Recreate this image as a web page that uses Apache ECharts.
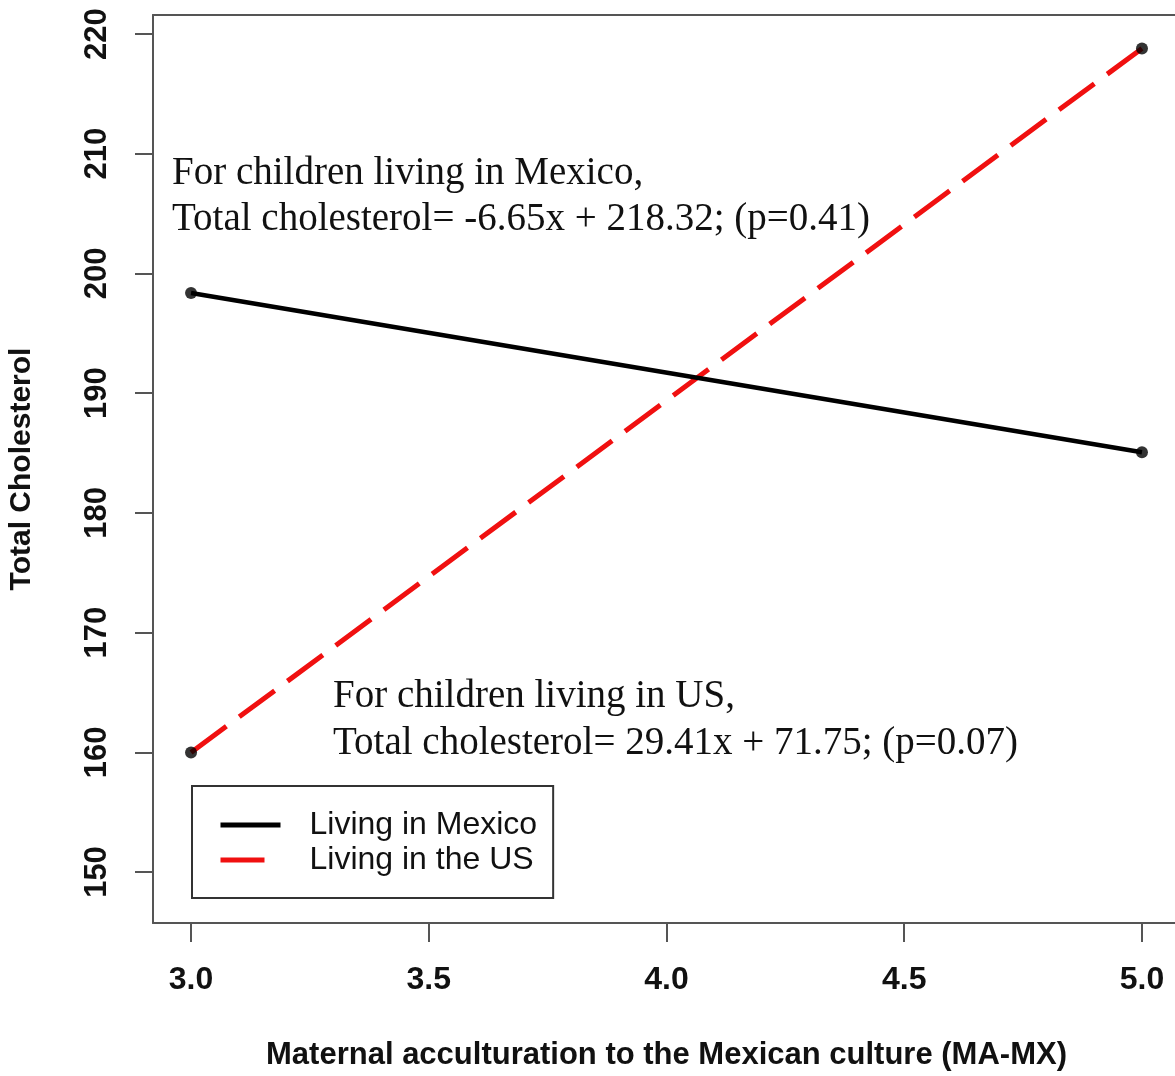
<!DOCTYPE html>
<html>
<head>
<meta charset="utf-8">
<script src="https://cdn.jsdelivr.net/npm/echarts@6/dist/echarts.min.js"></script>
<style>html,body{margin:0;padding:0;background:#fff;overflow:hidden;}#chart{width:1175px;height:1076px;}</style>
</head>
<body>
<div id="chart"></div>
<script>
// ---- data ----
var xValues = [3.0, 5.0];
var mexicoValues = [198.37, 185.07];
var usValues = [159.98, 218.80];
var xTicks = [3.0, 3.5, 4.0, 4.5, 5.0];
var yTicks = [150, 160, 170, 180, 190, 200, 210, 220];
var seriesNames = ['Living in Mexico', 'Living in the US'];
var xTitle = 'Maternal acculturation to the Mexican culture (MA-MX)';
var yTitle = 'Total Cholesterol';
var mexicoNote = ['For children living in Mexico,', 'Total cholesterol= -6.65x + 218.32; (p=0.41)'];
var usNote = ['For children living in US,', 'Total cholesterol= 29.41x + 71.75; (p=0.07)'];

function pairs(xs, ys) { return xs.map(function (x, i) { return [x, ys[i]]; }); }
var allPoints = pairs(xValues, mexicoValues).concat(pairs(xValues, usValues));

var sans = '"Liberation Sans", Arial, sans-serif';
var serif = '"Liberation Serif", "Times New Roman", serif';
var boxLine = {show: true, lineStyle: {color: '#555', width: 2}};

var chart = echarts.init(document.getElementById('chart'), null, {renderer: 'canvas'});
chart.setOption({
  animation: false,
  backgroundColor: '#fff',
  grid: {
    left: 153, top: 15, width: 1027, height: 908,
    outerBoundsMode: 'none', containLabel: false, show: false
  },
  xAxis: [{
    type: 'value', min: 2.92, max: 5.08, position: 'bottom',
    axisLine: boxLine,
    splitLine: {show: false},
    axisTick: {show: true, inside: false, length: 19, lineStyle: {color: '#555', width: 2}, customValues: xTicks},
    axisLabel: {
      show: true, margin: 41, customValues: xTicks,
      fontFamily: sans, fontWeight: 'bold', fontSize: 32, color: '#111',
      formatter: function (v) { return v.toFixed(1); }
    },
    name: xTitle, nameLocation: 'middle', nameGap: 117,
    nameTextStyle: {fontFamily: sans, fontWeight: 'bold', fontSize: 31, color: '#111'}
  }, {
    type: 'value', min: 2.92, max: 5.08, position: 'top',
    axisLine: boxLine,
    splitLine: {show: false}, axisTick: {show: false}, axisLabel: {show: false}
  }],
  yAxis: {
    type: 'value', min: 145.74, max: 221.59,
    axisLine: boxLine,
    splitLine: {show: false},
    axisTick: {show: true, inside: false, length: 18, lineStyle: {color: '#555', width: 2}, customValues: yTicks},
    axisLabel: {
      show: true, margin: 40, rotate: 90, customValues: yTicks,
      fontFamily: sans, fontWeight: 'bold', fontSize: 31, color: '#111'
    },
    name: yTitle, nameLocation: 'middle', nameGap: 116, nameRotate: 90,
    nameTextStyle: {fontFamily: sans, fontWeight: 'bold', fontSize: 30, color: '#111'}
  },
  legend: {
    left: 192, top: 786, orient: 'vertical',
    data: seriesNames,
    itemWidth: 60, itemHeight: 5, itemGap: 3,
    padding: [23, 16, 22, 26],
    borderColor: '#333', borderWidth: 2, backgroundColor: '#fff',
    lineStyle: {width: 5},
    itemStyle: {opacity: 0},
    textStyle: {fontFamily: sans, fontSize: 32, color: '#111', padding: [0, 0, 0, 24]},
    selectedMode: false
  },
  series: [
    {
      name: seriesNames[0], type: 'line', data: pairs(xValues, mexicoValues),
      symbol: 'none', color: '#000',
      lineStyle: {color: '#000', width: 4.5, type: 'solid'}, z: 3
    },
    {
      name: seriesNames[1], type: 'line', data: pairs(xValues, usValues),
      symbol: 'none', color: '#f01010',
      lineStyle: {color: '#f01010', width: 5, type: [44, 16]}, z: 2
    },
    {
      name: 'points', type: 'scatter', data: allPoints,
      symbol: 'circle', symbolSize: 12, itemStyle: {color: '#000'}, z: 5
    }
  ],
  graphic: [
    {type: 'text', left: 172, top: 151, z: 10, style: {text: mexicoNote.join('\n'), font: '39px ' + serif, fill: '#111', lineHeight: 46}},
    {type: 'text', left: 333, top: 673, z: 10, style: {text: usNote.join('\n'), font: '39px ' + serif, fill: '#111', lineHeight: 47}}
  ]
});
</script>
</body>
</html>
